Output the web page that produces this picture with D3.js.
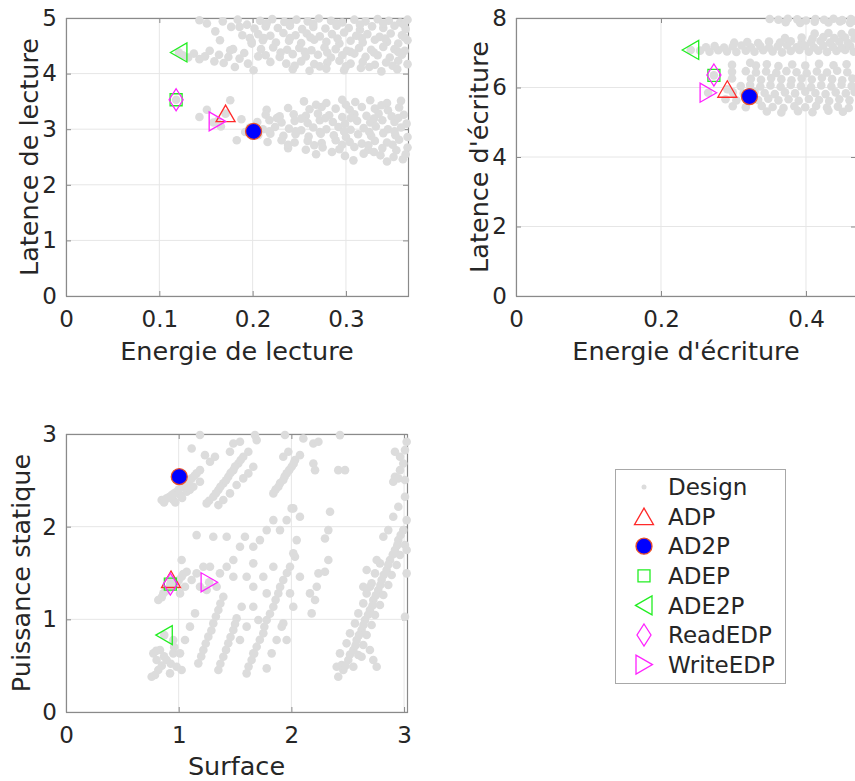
<!DOCTYPE html>
<html>
<head>
<meta charset="utf-8">
<script src="https://cdn.jsdelivr.net/npm/d3@7"></script>
<style>
  body { margin: 0; background: #ffffff; }
  svg { display: block; font-family: "DejaVu Sans", sans-serif; }
</style>
</head>
<body>
<svg id="fig" width="855" height="781"></svg>
<script>
// ---------------------------------------------------------------
// Design space: every explored configuration (grey cloud)
// ---------------------------------------------------------------
// [read energy, read latency]
const designRead = [
  [0.125,4.33],[0.131,4.29],[0.137,4.36],[0.143,4.26],[0.149,4.31],[0.154,4.41],[0.159,4.22],[0.164,4.34],[0.169,4.19],[0.174,4.30],[0.179,4.44],[0.181,4.12],[0.186,4.27],[0.191,4.37],[0.195,4.18],[0.199,4.54],[0.201,4.06],[0.206,4.31],
  [0.143,4.96],[0.151,4.90],[0.160,4.76],[0.165,4.60],[0.168,4.94],[0.176,4.42],[0.177,4.84],[0.184,4.97],[0.186,4.84],[0.189,4.69],[0.194,4.88],[0.197,4.64],
  [0.208,4.95],[0.221,4.98],[0.234,4.93],[0.247,4.97],[0.259,4.94],[0.271,4.99],[0.284,4.95],[0.296,4.92],[0.309,4.97],[0.321,4.94],[0.334,4.98],[0.346,4.95],[0.358,4.92],[0.366,4.97],
  [0.202,4.81],[0.214,4.85],[0.227,4.82],[0.240,4.86],[0.253,4.80],[0.265,4.84],[0.278,4.81],[0.290,4.86],[0.303,4.82],[0.315,4.79],[0.328,4.85],[0.340,4.82],[0.352,4.86],[0.364,4.80],
  [0.206,4.71],[0.219,4.68],[0.233,4.73],[0.246,4.69],[0.258,4.72],[0.272,4.67],[0.285,4.71],[0.298,4.74],[0.311,4.68],[0.323,4.71],[0.336,4.66],[0.348,4.72],[0.360,4.69],
  [0.199,4.57],[0.211,4.60],[0.225,4.56],[0.239,4.59],[0.252,4.55],[0.266,4.61],[0.279,4.57],[0.293,4.54],[0.305,4.59],[0.318,4.56],[0.331,4.61],[0.344,4.57],[0.356,4.54],[0.366,4.60],
  [0.209,4.44],[0.222,4.47],[0.237,4.43],[0.250,4.46],[0.263,4.42],[0.277,4.47],[0.289,4.44],[0.301,4.41],[0.314,4.46],[0.327,4.43],[0.340,4.48],[0.352,4.44],[0.363,4.41],
  [0.214,4.33],[0.229,4.30],[0.243,4.35],[0.257,4.31],[0.270,4.34],[0.284,4.29],[0.296,4.33],[0.309,4.36],[0.321,4.30],[0.334,4.33],[0.347,4.29],[0.360,4.34],
  [0.219,4.21],[0.236,4.18],[0.252,4.22],[0.266,4.17],[0.280,4.20],[0.293,4.23],[0.305,4.18],[0.318,4.21],[0.331,4.16],[0.343,4.20],[0.356,4.23],[0.366,4.17],
  [0.243,4.08],[0.261,4.05],[0.279,4.09],[0.298,4.06],[0.316,4.10],[0.338,4.04],[0.355,4.08],[0.121,4.38],
  [0.215,4.90],[0.240,4.91],[0.265,4.89],[0.290,4.90],[0.315,4.88],[0.340,4.90],[0.362,4.88],
  [0.212,4.64],[0.240,4.64],[0.262,4.65],[0.291,4.63],[0.317,4.64],[0.342,4.63],[0.363,4.65],
  [0.230,4.38],[0.256,4.39],[0.280,4.38],[0.305,4.39],[0.330,4.38],[0.356,4.39],
  [0.245,4.14],[0.272,4.13],[0.300,4.13],[0.325,4.12],[0.350,4.14],
  [0.143,3.22],[0.151,3.35],[0.158,3.12],[0.162,3.14],[0.166,3.05],[0.171,3.28],[0.176,3.52],[0.183,2.80],[0.188,3.18],[0.192,2.95],[0.201,2.96],[0.215,3.35],[0.118,3.53],
  [0.255,3.50],[0.279,3.47],[0.296,3.53],[0.310,3.49],[0.326,3.52],[0.344,3.47],[0.359,3.51],
  [0.238,3.38],[0.261,3.36],[0.274,3.40],[0.289,3.37],[0.304,3.35],[0.317,3.40],[0.331,3.37],[0.345,3.34],[0.357,3.39],
  [0.214,3.26],[0.229,3.23],[0.244,3.27],[0.257,3.24],[0.270,3.28],[0.282,3.25],[0.296,3.22],[0.309,3.27],[0.322,3.24],[0.335,3.28],[0.349,3.23],[0.362,3.26],
  [0.205,3.13],[0.218,3.16],[0.231,3.12],[0.245,3.15],[0.259,3.11],[0.272,3.16],[0.286,3.13],[0.299,3.10],[0.312,3.15],[0.326,3.12],[0.339,3.16],[0.352,3.13],[0.365,3.10],
  [0.197,3.03],[0.211,3.00],[0.224,3.04],[0.239,3.01],[0.252,2.98],[0.265,3.03],[0.279,3.00],[0.292,3.04],[0.305,2.99],[0.319,3.02],[0.332,3.05],[0.345,3.00],[0.359,3.03],
  [0.206,2.89],[0.219,2.92],[0.233,2.88],[0.246,2.91],[0.260,2.87],[0.273,2.92],[0.287,2.89],[0.300,2.86],[0.313,2.91],[0.327,2.88],[0.340,2.93],[0.353,2.89],[0.366,2.86],
  [0.216,2.77],[0.231,2.80],[0.245,2.76],[0.259,2.79],[0.274,2.75],[0.289,2.80],[0.304,2.77],[0.317,2.74],[0.331,2.79],[0.344,2.76],[0.357,2.81],
  [0.238,2.66],[0.257,2.63],[0.275,2.67],[0.293,2.64],[0.309,2.68],[0.324,2.63],[0.339,2.66],[0.354,2.62],[0.366,2.67],
  [0.268,2.55],[0.299,2.52],[0.319,2.56],[0.337,2.53],[0.351,2.50],[0.364,2.55],
  [0.308,2.44],[0.344,2.42],[0.361,2.46],
  [0.268,3.44],[0.300,3.44],[0.338,3.43],[0.226,3.20],[0.252,3.19],[0.278,3.20],[0.305,3.20],[0.330,3.19],[0.356,3.20],
  [0.218,2.96],[0.246,2.96],[0.272,2.95],[0.298,2.96],[0.325,2.95],[0.352,2.96],
  [0.238,2.72],[0.266,2.71],[0.296,2.72],[0.324,2.71],[0.350,2.72],[0.285,2.59],[0.330,2.59]
];

// [write energy, write latency]
const designWrite = [
  [0.350,7.97],[0.362,7.95],[0.375,7.98],[0.388,7.96],[0.400,7.93],[0.413,7.97],[0.425,7.95],[0.438,7.98],[0.450,7.94],[0.462,7.97],[0.468,7.92],
  [0.372,7.88],[0.392,7.86],[0.412,7.89],[0.431,7.87],[0.447,7.90],[0.461,7.86],
  [0.254,7.06],[0.267,7.03],[0.279,7.07],[0.291,7.04],[0.304,7.02],[0.317,7.06],[0.329,7.03],[0.341,7.07],[0.354,7.04],[0.367,7.01],[0.379,7.05],[0.391,7.08],[0.404,7.03],[0.417,7.06],[0.429,7.02],[0.442,7.05],[0.454,7.08],[0.466,7.03],
  [0.262,7.16],[0.274,7.19],[0.287,7.15],[0.299,7.18],[0.311,7.21],[0.324,7.16],[0.337,7.19],[0.349,7.15],[0.361,7.18],[0.374,7.21],[0.387,7.16],[0.399,7.19],[0.411,7.15],[0.424,7.20],[0.437,7.17],[0.449,7.14],[0.461,7.19],
  [0.301,7.29],[0.319,7.31],[0.334,7.28],[0.349,7.32],[0.364,7.29],[0.379,7.33],[0.394,7.28],[0.407,7.31],[0.420,7.34],[0.433,7.29],[0.446,7.32],[0.458,7.28],
  [0.371,7.42],[0.394,7.44],[0.409,7.41],[0.424,7.45],[0.439,7.42],[0.454,7.44],[0.467,7.41],
  [0.412,7.55],[0.431,7.57],[0.449,7.54],[0.464,7.58],[0.241,7.08],
  [0.298,6.65],[0.323,6.71],[0.331,6.63],[0.346,6.67],[0.362,6.62],[0.381,6.66],[0.399,6.63],[0.418,6.68],[0.438,6.64],[0.456,6.67],
  [0.298,6.45],[0.317,6.47],[0.331,6.43],[0.345,6.46],[0.359,6.42],[0.373,6.47],[0.387,6.44],[0.401,6.41],[0.415,6.46],[0.429,6.43],[0.443,6.48],[0.457,6.44],
  [0.298,6.26],[0.324,6.25],[0.338,6.22],[0.352,6.27],[0.366,6.24],[0.380,6.21],[0.394,6.26],[0.408,6.23],[0.422,6.28],[0.436,6.24],[0.450,6.21],[0.464,6.26],
  [0.310,6.04],[0.323,6.07],[0.337,6.03],[0.351,6.06],[0.365,6.02],[0.379,6.07],[0.393,6.04],[0.407,6.01],[0.421,6.06],[0.435,6.03],[0.449,6.08],[0.463,6.04],
  [0.299,5.86],[0.314,5.83],[0.329,5.87],[0.343,5.84],[0.357,5.81],[0.371,5.86],[0.385,5.83],[0.399,5.88],[0.413,5.84],[0.427,5.81],[0.441,5.86],[0.455,5.83],[0.467,5.87],
  [0.289,5.66],[0.304,5.63],[0.320,5.67],[0.334,5.64],[0.348,5.68],[0.362,5.63],[0.376,5.66],[0.390,5.62],[0.404,5.67],[0.418,5.64],[0.432,5.61],[0.446,5.66],[0.460,5.63],
  [0.299,5.46],[0.317,5.43],[0.339,5.47],[0.354,5.44],[0.369,5.41],[0.384,5.46],[0.399,5.43],[0.414,5.47],[0.429,5.42],[0.444,5.45],[0.459,5.41],
  [0.346,5.31],[0.366,5.28],[0.389,5.32],[0.409,5.29],[0.431,5.33],[0.451,5.30],
  [0.2915,5.95],[0.322,5.74],[0.273,6.35],[0.265,5.85]
];

// [surface, static power]
const designArea = [
  [0.849,2.287],[0.893,2.305],[0.938,2.341],[0.982,2.377],[1.026,2.431],[1.071,2.467],[1.115,2.521],[1.159,2.575],[1.189,2.61],
  [0.952,2.287],[1.012,2.341],[1.071,2.377],[1.13,2.431],[1.189,2.485],[1.115,2.844],[1.189,2.99],[1.233,2.772],
  [1.248,2.251],[1.307,2.323],[1.352,2.395],[1.396,2.467],[1.44,2.539],[1.485,2.61],[1.529,2.682],[1.573,2.754],[1.618,2.808],
  [1.352,2.233],[1.396,2.287],[1.455,2.359],[1.514,2.449],[1.573,2.521],[1.618,2.575],[1.662,2.647],
  [1.455,2.808],[1.485,2.898],[1.544,2.916],[1.677,2.988],[1.692,2.934],[1.278,2.7],[1.322,2.754],
  [1.84,2.359],[1.884,2.431],[1.928,2.503],[1.958,2.575],[2.002,2.647],[2.032,2.718],[2.076,2.772],
  [1.928,2.754],[1.973,2.808],[1.943,2.99],[2.017,2.197],[2.076,2.107],
  [2.106,2.952],[2.195,2.898],[2.24,2.916],[2.195,2.682],[2.21,2.61],
  [2.431,2.988],[2.416,2.61],[2.476,2.61],[2.343,2.161],[2.328,1.963],[2.298,1.873],
  [2.919,2.808],[2.964,2.754],[3.008,2.826],[2.993,2.682],[2.964,2.61],[2.919,2.539],[2.904,2.485],[3.023,2.916],[3.008,2.503],[2.949,2.521],
  [2.461,0.453],[2.505,0.561],[2.55,0.669],[2.579,0.777],[2.623,0.885],[2.653,0.992],[2.697,1.1],[2.727,1.208],[2.771,1.316],[2.801,1.424],[2.845,1.532],[2.875,1.64],[2.919,1.748],[2.949,1.855],[2.993,1.963],[3.023,2.071],
  [2.402,0.489],[2.431,0.633],[2.49,0.741],[2.52,0.849],[2.564,0.956],[2.594,1.064],[2.638,1.172],[2.668,1.28],[2.712,1.388],[2.742,1.496],[2.786,1.604],
  [2.55,0.489],[2.594,0.615],[2.638,0.723],[2.668,0.831],[2.712,0.939],[2.742,1.046],[2.786,1.154],[2.816,1.262],[2.86,1.37],[2.89,1.478],[2.934,1.586],[2.964,1.694],[3.008,1.802],
  [2.668,1.532],[2.697,1.352],[2.816,1.891],[2.86,1.963],[2.904,2.107],[2.949,2.215],[3.008,2.323],[3.023,1.748],[3.023,1.496],[3.008,1.028],[2.757,1.64],[2.638,1.352],
  [2.416,0.381],[2.446,0.507],[2.623,0.597],[2.697,0.669],[2.727,0.561],[2.757,0.489],
  [2.48,0.50],[2.52,0.62],[2.57,0.72],[2.60,0.83],[2.64,0.94],[2.68,1.05],[2.72,1.15],[2.75,1.26],[2.79,1.37],[2.82,1.48],[2.86,1.59],[2.90,1.70],[2.94,1.80],[2.97,1.91],
  [1.603,0.417],[1.647,0.561],[1.692,0.705],[1.751,0.849],[1.781,0.992],[1.84,1.136],[1.884,1.28],[1.928,1.424],[1.988,1.568],[2.032,1.676],
  [1.781,0.471],[1.825,0.633],[1.869,0.777],[1.914,0.921],
  [1.352,0.453],[1.396,0.597],[1.44,0.741],[1.485,0.885],[1.514,1.010],[1.559,1.136],
  [1.174,0.525],[1.219,0.669],[1.263,0.813],[1.307,0.956],[1.352,1.1],[1.396,1.244],
  [1.012,0.633],[1.056,0.777],[1.1,0.921],[1.145,1.064],
  [0.76,0.381],[0.819,0.453],[0.775,0.633],[0.834,0.669],[0.893,0.561],[0.952,0.633],[0.923,0.417],[0.982,0.489],[1.026,0.453],[0.804,0.561],[0.952,0.777],
  [0.819,1.208],[0.864,1.28],[0.908,1.334],[0.982,1.388],[1.026,1.46],[1.071,1.514],[1.012,1.28],[1.056,1.352],[1.115,1.424],[1.159,1.496],[1.219,1.568],[1.278,1.568],[1.189,1.352],[1.248,1.316],[1.366,1.496],[1.426,1.568],[1.337,1.352],
  [1.485,1.64],[1.544,1.784],[1.588,1.891],[1.662,1.784],[1.721,1.855],[1.781,1.963],[1.84,2.071],[1.899,1.963],[1.958,2.071],[2.002,2.197],[2.017,1.712],[1.84,1.568],[1.751,1.46],[1.662,1.352],[1.307,1.891],[1.426,1.891],[1.159,1.909],[1.026,1.64],[1.662,1.604],[1.603,1.46],[1.485,1.46],
  [1.662,1.136],[1.707,0.992],[1.603,0.921],[1.544,0.777],[1.662,0.633],[1.958,0.777],[1.928,0.956],[1.781,1.28],[1.988,1.28],[2.017,1.136],[2.076,1.46],[2.225,1.352],[2.21,1.208],[2.18,1.064],[2.165,1.28],[2.24,1.496],[2.298,1.514],[2.328,1.64],[2.047,1.855],
  [0.87,2.26],[0.915,2.32],[0.96,2.36],[1.00,2.40],[1.05,2.45],[1.09,2.49],[1.14,2.55],[0.97,2.26],[1.03,2.31],[1.10,2.40],
  [1.27,2.28],[1.33,2.36],[1.37,2.43],[1.42,2.50],[1.46,2.58],[1.50,2.65],[1.55,2.72],
  [1.86,2.40],[1.90,2.47],[1.94,2.54],[1.98,2.61],[2.02,2.68],
  [0.79,0.40],[0.85,0.50],[0.80,0.66],[0.87,0.60],[0.93,0.52],[0.96,0.70],[0.85,1.24],[0.89,1.31],[0.95,1.36],[1.00,1.42],[1.04,1.49],
  [1.62,0.49],[1.67,0.63],[1.72,0.78],[1.76,0.92],[1.81,1.06],[1.86,1.21],[1.90,1.35],[1.96,1.50],
  [1.37,0.52],[1.42,0.67],[1.46,0.81],[1.50,0.95],[1.20,0.60],[1.24,0.74],[1.29,0.88],[1.33,1.03],[1.37,1.17],
  [0.932,1.43],[1.005,2.54],[0.926,1.38],[0.872,0.83],[1.27,1.40]
];

// ---------------------------------------------------------------
// Optimal configurations, one per figure of merit
// ---------------------------------------------------------------
const optimaNames = ["ADP", "AD2P", "ADEP", "ADE2P", "ReadEDP", "WriteEDP"];
const optimaRead  = [[0.171,3.28],[0.201,2.96],[0.118,3.53],[0.121,4.38],[0.118,3.53],[0.162,3.14]];
const optimaWrite = [[0.2915,5.95],[0.322,5.74],[0.273,6.35],[0.241,7.08],[0.273,6.36],[0.265,5.85]];
const optimaArea  = [[0.932,1.43],[1.005,2.54],[0.926,1.38],[0.872,0.83],[0.926,1.38],[1.27,1.40]];

// Tick values and labels
const readXTicks   = [0, 0.1, 0.2, 0.3];
const readXLabels  = ["0", "0.1", "0.2", "0.3"];
const readYTicks   = [0, 1, 2, 3, 4, 5];
const readYLabels  = ["0", "1", "2", "3", "4", "5"];
const writeXTicks  = [0, 0.2, 0.4];
const writeXLabels = ["0", "0.2", "0.4"];
const writeYTicks  = [0, 2, 4, 6, 8];
const writeYLabels = ["0", "2", "4", "6", "8"];
const areaXTicks   = [0, 1, 2, 3];
const areaXLabels  = ["0", "1", "2", "3"];
const areaYTicks   = [0, 1, 2, 3];
const areaYLabels  = ["0", "1", "2", "3"];

// ---------------------------------------------------------------
// Styling
// ---------------------------------------------------------------
const TEXT = "#262626";
const BOX = "#8a8a8a";
const GRID = "#e6e6e6";
const DESIGN = "#dcdcdc";

const markerStyle = {
  ADP:      { shape: "up",      stroke: "#ff2a2a", fill: "none" },
  AD2P:     { shape: "circle",  stroke: "#e8502a", fill: "#0000ff" },
  ADEP:     { shape: "square",  stroke: "#22ee22", fill: "none" },
  ADE2P:    { shape: "left",    stroke: "#22ee22", fill: "none" },
  ReadEDP:  { shape: "diamond", stroke: "#ff22ff", fill: "none" },
  WriteEDP: { shape: "right",   stroke: "#ff22ff", fill: "none" }
};

function shapePath(shape) {
  switch (shape) {
    case "up":      return "M0,-8.5L9.5,8L-9.5,8Z";
    case "left":    return "M-8.5,0L8,-9.5L8,9.5Z";
    case "right":   return "M8.5,0L-8,-9.5L-8,9.5Z";
    case "square":  return "M-6,-6H6V6H-6Z";
    case "diamond": return "M0,-11L7,0L0,11L-7,0Z";
    case "circle":  return "M8,0A8,8 0 1,1 -8,0A8,8 0 1,1 8,0Z";
  }
}

const svg = d3.select("#fig");

function drawPanel(cfg) {
  const x = d3.scaleLinear().domain(cfg.xDomain).range([cfg.left, cfg.right]);
  const y = d3.scaleLinear().domain(cfg.yDomain).range([cfg.bottom, cfg.top]);
  const g = svg.append("g");

  // grid
  g.append("g").selectAll("line").data(cfg.xTicks).join("line")
    .attr("x1", d => x(d)).attr("x2", d => x(d))
    .attr("y1", cfg.top).attr("y2", cfg.bottom)
    .attr("stroke", GRID).attr("stroke-width", 1);
  g.append("g").selectAll("line").data(cfg.yTicks).join("line")
    .attr("y1", d => y(d)).attr("y2", d => y(d))
    .attr("x1", cfg.left).attr("x2", cfg.right)
    .attr("stroke", GRID).attr("stroke-width", 1);

  // axes with inward ticks on all four sides
  const styleAxis = sel => {
    sel.select(".domain").remove();
    sel.selectAll(".tick line").attr("stroke", BOX);
    sel.selectAll(".tick text").attr("fill", TEXT)
      .attr("font-size", 23).attr("font-family", "DejaVu Sans, sans-serif");
  };
  g.append("g").attr("transform", `translate(0,${cfg.bottom})`)
    .call(d3.axisBottom(x).tickValues(cfg.xTicks)
      .tickFormat((d, i) => cfg.xLabels[i]).tickSize(-5).tickPadding(15))
    .call(styleAxis);
  g.append("g").attr("transform", `translate(0,${cfg.top})`)
    .call(d3.axisTop(x).tickValues(cfg.xTicks).tickFormat("").tickSize(-5))
    .call(styleAxis);
  g.append("g").attr("transform", `translate(${cfg.left},0)`)
    .call(d3.axisLeft(y).tickValues(cfg.yTicks)
      .tickFormat((d, i) => cfg.yLabels[i]).tickSize(-5).tickPadding(9))
    .call(styleAxis);
  g.append("g").attr("transform", `translate(${cfg.right},0)`)
    .call(d3.axisRight(y).tickValues(cfg.yTicks).tickFormat("").tickSize(-5))
    .call(styleAxis);

  // box
  g.append("rect")
    .attr("x", cfg.left + 0.5).attr("y", cfg.top + 0.5)
    .attr("width", cfg.right - cfg.left).attr("height", cfg.bottom - cfg.top)
    .attr("fill", "none").attr("stroke", BOX).attr("stroke-width", 1.2);

  // design cloud
  g.append("g").selectAll("circle").data(cfg.design).join("circle")
    .attr("cx", d => x(d[0])).attr("cy", d => y(d[1]))
    .attr("r", 4.3).attr("fill", DESIGN);

  // optimal points
  g.append("g").selectAll("path").data(cfg.optima).join("path")
    .attr("transform", d => `translate(${x(d.v[0])},${y(d.v[1])})`)
    .attr("d", d => shapePath(markerStyle[d.name].shape))
    .attr("fill", d => markerStyle[d.name].fill)
    .attr("stroke", d => markerStyle[d.name].stroke)
    .attr("stroke-width", 1.3);

  // axis titles
  g.append("text")
    .attr("x", (cfg.left + cfg.right) / 2).attr("y", cfg.bottom + cfg.xTitleOffset)
    .attr("text-anchor", "middle").attr("font-size", 25.5).attr("fill", TEXT)
    .text(cfg.xTitle);
  g.append("text")
    .attr("transform", `translate(${cfg.yTitleX},${(cfg.top + cfg.bottom) / 2}) rotate(-90)`)
    .attr("text-anchor", "middle").attr("font-size", 25.5).attr("fill", TEXT)
    .text(cfg.yTitle);
}

const pair = vals => optimaNames.map((name, i) => ({ name, v: vals[i] }));

drawPanel({
  left: 66, right: 408, top: 18, bottom: 296,
  xDomain: [0, 0.3665], yDomain: [0, 5],
  xTicks: readXTicks, xLabels: readXLabels, yTicks: readYTicks, yLabels: readYLabels,
  design: designRead, optima: pair(optimaRead),
  xTitle: "Energie de lecture", yTitle: "Latence de lecture",
  xTitleOffset: 64, yTitleX: 38
});

drawPanel({
  left: 516, right: 856, top: 18, bottom: 296,
  xDomain: [0, 0.469], yDomain: [0, 8],
  xTicks: writeXTicks, xLabels: writeXLabels, yTicks: writeYTicks, yLabels: writeYLabels,
  design: designWrite, optima: pair(optimaWrite),
  xTitle: "Energie d'écriture", yTitle: "Latence d'écriture",
  xTitleOffset: 64, yTitleX: 488
});

drawPanel({
  left: 66, right: 407, top: 434, bottom: 712,
  xDomain: [0, 3.026], yDomain: [0, 3],
  xTicks: areaXTicks, xLabels: areaXLabels, yTicks: areaYTicks, yLabels: areaYLabels,
  design: designArea, optima: pair(optimaArea),
  xTitle: "Surface", yTitle: "Puissance statique",
  xTitleOffset: 62.5, yTitleX: 30
});

// ---------------------------------------------------------------
// Legend
// ---------------------------------------------------------------
const legendItems = ["Design"].concat(optimaNames);
const legend = svg.append("g");
legend.append("rect")
  .attr("x", 615.5).attr("y", 469.5).attr("width", 170).attr("height", 214)
  .attr("fill", "#ffffff").attr("stroke", "#a8a8a8").attr("stroke-width", 1);
const rows = legend.selectAll("g.item").data(legendItems).join("g")
  .attr("class", "item")
  .attr("transform", (d, i) => `translate(0,${487 + i * 29.6})`);
rows.filter(d => d === "Design").append("circle")
  .attr("cx", 644).attr("cy", 0).attr("r", 2.5).attr("fill", DESIGN);
rows.filter(d => d !== "Design").append("path")
  .attr("transform", "translate(644,0)")
  .attr("d", d => shapePath(markerStyle[d].shape))
  .attr("fill", d => markerStyle[d].fill)
  .attr("stroke", d => markerStyle[d].stroke)
  .attr("stroke-width", 1.3);
rows.append("text")
  .attr("x", 668).attr("y", 0).attr("dy", "0.36em")
  .attr("font-size", 23).attr("fill", TEXT)
  .text(d => d);
</script>
</body>
</html>
